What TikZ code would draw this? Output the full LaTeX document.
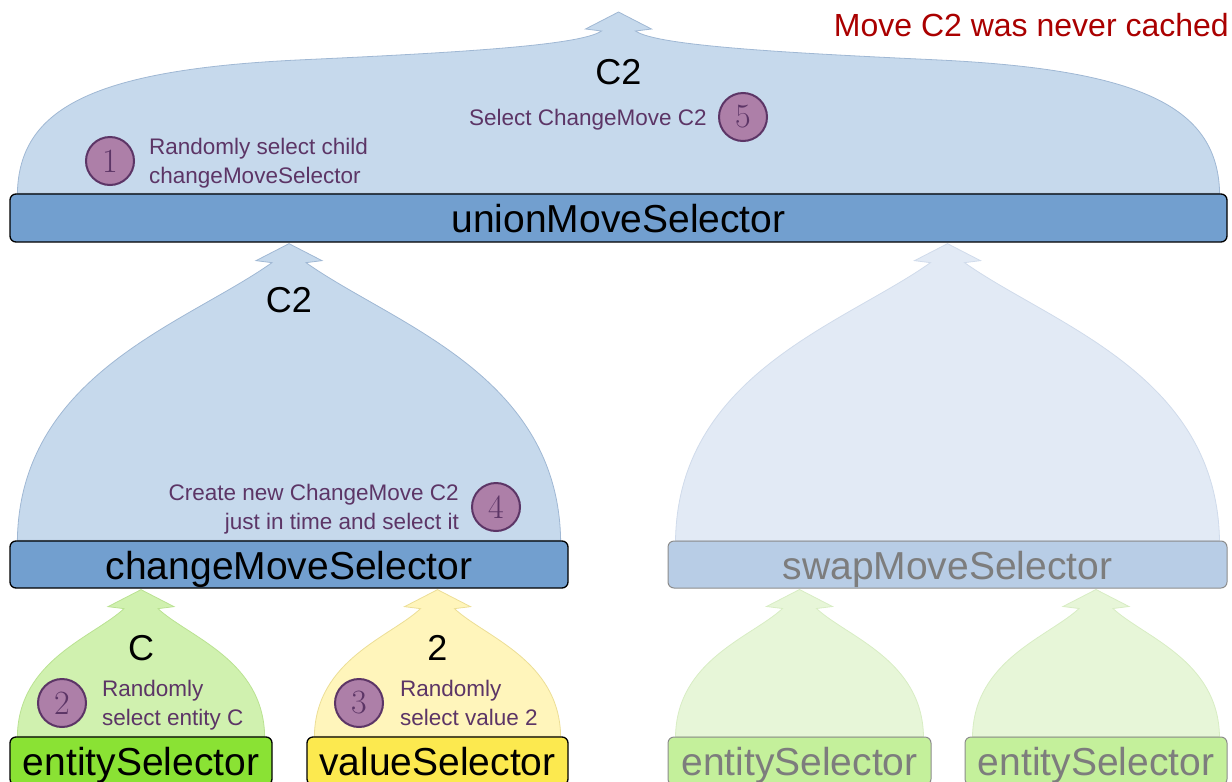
\documentclass[tikz,border=0pt]{standalone}
\usepackage{fontspec}
\newfontfamily\arial{Liberation Sans}
\usetikzlibrary{calc}
\pgfdeclarelayer{bg}
\pgfsetlayers{bg,main}
\definecolor{boxblue}{RGB}{114,159,207}
\definecolor{fanblue}{RGB}{198,217,236}
\definecolor{fanblueline}{RGB}{160,184,212}
\definecolor{fadebox}{RGB}{184,205,230}
\definecolor{fadefan}{RGB}{226,234,245}
\definecolor{fadefanline}{RGB}{208,219,235}
\definecolor{boxgreen}{RGB}{138,226,52}
\definecolor{fangreen}{RGB}{208,241,175}
\definecolor{fangreenline}{RGB}{186,226,146}
\definecolor{fadegreenbox}{RGB}{196,240,155}
\definecolor{fadegreenfan}{RGB}{231,246,216}
\definecolor{fadegreenline}{RGB}{216,237,196}
\definecolor{boxyellow}{RGB}{252,233,79}
\definecolor{fanyellow}{RGB}{255,245,187}
\definecolor{fanyellowline}{RGB}{236,222,150}
\definecolor{plum}{RGB}{92,53,102}
\definecolor{plumfill}{RGB}{173,127,168}
\definecolor{darkred}{RGB}{170,0,0}
\definecolor{fadetext}{RGB}{125,125,125}
\definecolor{fadeborder}{RGB}{140,140,140}

% fan-shaped arrow from a child box up to the bottom of its parent
\newcommand\fan[3]{%
  \path[#3] let \p1=(#1.north west), \p2=(#1.north east), \p3=(#2.south),
    \n1={\x1+8pt}, \n2={\x2-8pt}, \n3={(\x1+\x2)/2}, \n4={(\x2-\x1)/2-8pt},
    \n5={\y3-20pt}, \n6={\y3-20pt-\y1} in
    (\n1,\y1) .. controls ({\n1+0.01*\n4},{\y1+0.6*\n6}) and ({\n1+0.62*\n4},{\y1+0.78*\n6}) .. ({\n3-17pt},\n5)
    -- ({\n3-33pt},{\n5+2pt}) -- (\n3,{\y3-1pt}) -- ({\n3+33pt},{\n5+2pt}) -- ({\n3+17pt},\n5)
    .. controls ({\n2-0.62*\n4},{\y1+0.78*\n6}) and ({\n2-0.01*\n4},{\y1+0.6*\n6}) .. (\n2,\y1) -- cycle;}

% wide flat fan on top of the root
\newcommand\topfan[3]{%
  \path[#3] let \p1=(#1.north west), \p2=(#1.north east), \p3=(#2),
    \n1={\x1+8pt}, \n2={\x2-8pt}, \n3={\x3}, \n4={\x3-\x1-8pt},
    \n5={\y3-19pt}, \n6={\y3-19pt-\y1} in
    (\n1,\y1) .. controls ({\n1+0.0033*\n4},{\y1+0.515*\n6}) and ({\n1+0.12*\n4},{\y1+0.761*\n6}) .. ({\n1+0.47*\n4},{\y1+0.822*\n6})
    .. controls ({\n1+0.719*\n4},{\y1+0.865*\n6}) and ({\n1+0.936*\n4},{\y1+0.908*\n6}) .. ({\n3-17pt},\n5)
    -- ({\n3-33pt},{\n5+2pt}) -- (\n3,\y3) -- ({\n3+33pt},{\n5+2pt}) -- ({\n3+17pt},\n5)
    .. controls ({\n2-0.936*\n4},{\y1+0.908*\n6}) and ({\n2-0.719*\n4},{\y1+0.865*\n6}) .. ({\n2-0.47*\n4},{\y1+0.822*\n6})
    .. controls ({\n2-0.12*\n4},{\y1+0.761*\n6}) and ({\n2-0.0033*\n4},{\y1+0.515*\n6}) .. (\n2,\y1) -- cycle;}

\tikzset{
  sel/.style={draw=black, line width=1.3pt, rounded corners=6pt, inner sep=0pt,
    font=\arial\fontsize{39}{47}\selectfont, text height=29pt, text depth=0pt,
    minimum height=48pt},
  fadesel/.style={sel, draw=fadeborder, line width=1pt, text=fadetext},
  badge/.style={circle, draw=plum, line width=2pt, fill=plumfill, minimum size=48pt,
    inner sep=0pt, text=plum, font=\fontsize{34}{34}\selectfont},
  note/.style={text=plum, font=\arial\fontsize{22.5}{29}\selectfont, inner sep=0pt},
  lab/.style={font=\arial\fontsize{36}{40}\selectfont, inner sep=0pt},
  bluefan/.style={fill=fanblue, draw=fanblueline, line width=0.8pt},
  fadebluefan/.style={fill=fadefan, draw=fadefanline, line width=0.8pt},
  greenfan/.style={fill=fangreen, draw=fangreenline, line width=0.8pt},
  yellowfan/.style={fill=fanyellow, draw=fanyellowline, line width=0.8pt},
  fadegreenfanst/.style={fill=fadegreenfan, draw=fadegreenline, line width=0.8pt},
}

\begin{document}
\begin{tikzpicture}[x=1pt, y=-1pt]
\useasboundingbox (0,0) rectangle (1232,782);

% selector boxes
\node[sel, fill=boxblue, minimum width=1217pt] (union) at (618.5,218) {unionMoveSelector};
\node[sel, fill=boxblue, minimum width=558pt, minimum height=47pt] (change) at (289,564.5) {changeMoveSelector};
\node[fadesel, fill=fadebox, minimum width=559pt, minimum height=47pt] (swap) at (947.5,564.5) {swapMoveSelector};
\node[sel, fill=boxgreen, minimum width=262pt] (entity) at (141,761) {entitySelector};
\node[sel, fill=boxyellow, minimum width=261pt] (value) at (437.5,761) {valueSelector};
\node[fadesel, fill=fadegreenbox, minimum width=263pt] (ent2) at (799.5,761) {entitySelector};
\node[fadesel, fill=fadegreenbox, minimum width=262pt] (ent3) at (1096,761) {entitySelector};

\coordinate (top) at (618.5,12);

% fans
\begin{pgfonlayer}{bg}
\topfan{union}{top}{bluefan}
\fan{change}{union}{bluefan}
\fan{swap}{union}{fadebluefan}
\fan{entity}{change}{greenfan}
\fan{value}{change}{yellowfan}
\fan{ent2}{swap}{fadegreenfanst}
\fan{ent3}{swap}{fadegreenfanst}
\end{pgfonlayer}

% values carried by the fans
\node[lab] (v0) at (618.5,72) {C2};
\node[lab] (v1) at (289,300) {C2};
\node[lab] (v2) at (141,648) {C};
\node[lab] (v3) at (437.5,648) {2};

% red note
\node[font=\arial\fontsize{32}{36}\selectfont, text=darkred, anchor=east, inner sep=0pt] (cached) at (1229,25) {Move C2 was never cached};

% step badges and notes
\node[badge] (b1) at (110,161) {1};
\node[note, anchor=west, align=left] (n1) at (149,163) {Randomly select child\\changeMoveSelector};
\node[badge] (b5) at (743,117) {5};
\node[note, anchor=base east] (n5) at (707,125) {Select ChangeMove C2};
\node[badge] (b4) at (496,507) {4};
\node[note, anchor=east, align=right] (n4) at (459,509) {Create new ChangeMove C2\\just in time and select it};
\node[badge] (b2) at (62,703) {2};
\node[note, anchor=west, align=left] (n2) at (102,705) {Randomly\\select entity C};
\node[badge] (b3) at (359,703) {3};
\node[note, anchor=west, align=left] (n3) at (400,703) {Randomly\\select value 2};
\end{tikzpicture}
\end{document}
